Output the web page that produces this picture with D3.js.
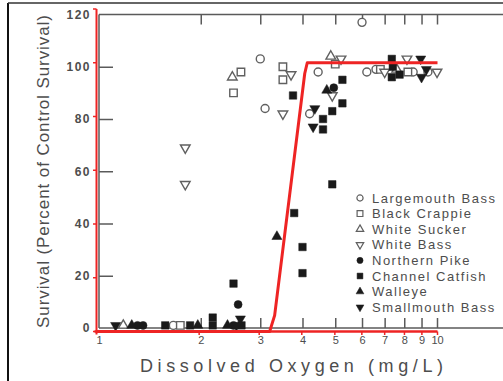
<!DOCTYPE html>
<html><head><meta charset="utf-8">
<script src="https://cdn.jsdelivr.net/npm/d3@7"></script>
<style>
html,body{margin:0;padding:0;background:#fff;}
svg{display:block;}
text{font-family:"Liberation Sans",Arial,sans-serif;fill:#4d4d4d;}
</style></head><body>
<svg id="c" width="503" height="381"></svg>
<script>
// ---- data (DO in mg/L, survival in % of control) ----
const largemouthBass = [[1.66,1],[3.0,103],[3.1,84],[4.2,82],[4.45,98],[6.0,117],[6.2,98],[6.6,99],[8.5,98],[9.4,98]];
const blackCrappie   = [[1.74,1],[2.5,90],[2.63,98],[3.5,100],[3.5,95],[5.0,101],[6.8,99],[8.2,98]];
const whiteSucker    = [[1.18,1],[2.48,96],[4.85,104],[7.6,99]];
const whiteBass      = [[1.8,69],[1.8,55],[3.5,82],[3.7,97],[4.9,89],[5.2,103],[7.0,98],[8.15,103],[10,98]];
const northernPike   = [[1.3,1],[1.35,1],[2.5,1],[2.58,9],[4.95,92]];
const channelCatfish = [[1.57,1],[1.86,1],[2.17,1],[2.17,4],[2.5,17],[2.64,1],[3.75,89],[3.78,44],[4.0,31],[4.0,21],
                        [4.6,80],[4.6,76],[4.9,55],[4.9,83],[5.25,86],[5.25,95],[7.35,103],[7.4,100],[7.35,96],[7.75,97]];
const walleye        = [[1.25,1],[1.96,1],[2.4,1],[3.36,35],[4.72,91]];
const smallmouthBass = [[1.12,1],[2.55,1],[2.62,3.5],[4.3,77],[4.35,84],[8.95,103],[9.0,96],[9.3,99]];

const speciesNames = ["Largemouth Bass","Black Crappie","White Sucker","White Bass","Northern Pike","Channel Catfish","Walleye","Smallmouth Bass"];
const speciesData  = [largemouthBass,blackCrappie,whiteSucker,whiteBass,northernPike,channelCatfish,walleye,smallmouthBass];

// red fitted threshold curve
const fitCurve = [[1,0],[3.22,0],[3.33,6],[4.08,96],[4.15,100],[10,100]];

const xTicks = [1,2,3,4,5,6,7,8,9,10];
const xTickLabels = ["1","2","3","4","5","6","7","8","9","10"];
const yTicks = [0,20,40,60,80,100,120];

// ---- drawing ----
const svg = d3.select("#c");
const W = 503, H = 381;
const x = d3.scaleLog().domain([1,10]).range([99,437]);
const y = d3.scaleLinear().domain([0,120]).range([328,14.5]);
const xr = d3.scaleLog().domain([1,10]).range([96.5,437.5]);
const yr = d3.scaleLinear().domain([0,120]).range([331.5,9]);

const gray = "#5a5a5a";

// scan frame border
svg.append("line").attr("x1",8).attr("x2",8).attr("y1",3).attr("y2",H).attr("stroke","#111").attr("stroke-width",2);
svg.append("line").attr("x1",8).attr("x2",W).attr("y1",3).attr("y2",3).attr("stroke","#333").attr("stroke-width",1.5);

// axis frame lines
svg.append("line").attr("x1",x(1)).attr("x2",W).attr("y1",y(0)).attr("y2",y(0)).attr("stroke",gray).attr("stroke-width",1.5);
svg.append("line").attr("x1",x(1)).attr("x2",W).attr("y1",y(120)).attr("y2",y(120)).attr("stroke",gray).attr("stroke-width",1.5);
svg.append("line").attr("x1",x(1)).attr("x2",x(1)).attr("y1",y(120)).attr("y2",y(0)).attr("stroke",gray).attr("stroke-width",1.5);

// bottom axis
const bx = svg.append("g").attr("transform",`translate(0,${y(0)})`)
  .call(d3.axisBottom(x).tickValues(xTicks).tickFormat((d,i)=>xTickLabels[i]).tickSize(-10).tickPadding(8));
bx.select(".domain").remove();
bx.selectAll(".tick line").attr("stroke",gray).attr("stroke-width",1.5).filter(d=>d===1).remove();
bx.selectAll(".tick text").attr("font-size",11).attr("fill","#4d4d4d").style("font-family","Liberation Sans, Arial");

// top axis ticks
const tx = svg.append("g").attr("transform",`translate(0,${y(120)})`)
  .call(d3.axisTop(x).tickValues(xTicks.slice(1)).tickFormat("").tickSize(-10));
tx.select(".domain").remove();
tx.selectAll(".tick line").attr("stroke",gray).attr("stroke-width",1.5);

// left axis
const ly = svg.append("g").attr("transform",`translate(${x(1)},0)`)
  .call(d3.axisLeft(y).tickValues(yTicks).tickSize(-14).tickPadding(8));
ly.select(".domain").remove();
ly.selectAll(".tick line").attr("stroke",gray).attr("stroke-width",1.5).filter(d=>d===0||d===120).remove();
ly.selectAll(".tick text").attr("font-size",12).attr("font-weight","bold").attr("letter-spacing","1.5px")
  .attr("fill","#5c5c5c").style("font-family","Liberation Sans, Arial");

// axis titles
svg.append("text").attr("transform",`translate(43,171.5) rotate(-90)`).attr("text-anchor","middle")
  .attr("dy","0.35em").attr("font-size",17).attr("textLength",313).attr("lengthAdjust","spacing")
  .text("Survival (Percent of Control Survival)");
svg.append("text").attr("x",291.5).attr("y",372).attr("text-anchor","middle")
  .attr("font-size",18).attr("textLength",303).attr("lengthAdjust","spacing")
  .text("Dissolved Oxygen (mg/L)");

// markers
const sym = [
  {t:d3.symbolCircle,s:50,fill:false,rot:0},
  {t:d3.symbolSquare,s:56,fill:false,rot:0},
  {t:d3.symbolTriangle,s:40,fill:false,rot:0},
  {t:d3.symbolTriangle,s:40,fill:false,rot:180},
  {t:d3.symbolCircle,s:50,fill:true,rot:0},
  {t:d3.symbolSquare,s:56,fill:true,rot:0},
  {t:d3.symbolTriangle,s:44,fill:true,rot:0},
  {t:d3.symbolTriangle,s:44,fill:true,rot:180}
];
speciesData.forEach((arr,i)=>{
  const m = sym[i];
  svg.append("g").selectAll("path").data(arr).join("path")
    .attr("d",d3.symbol().type(m.t).size(m.s))
    .attr("transform",d=>`translate(${x(d[0])},${y(d[1])}) rotate(${m.rot})`)
    .attr("fill",m.fill?"#1a1a1a":"#fff")
    .attr("stroke",m.fill?"#1a1a1a":"#606060")
    .attr("stroke-width",m.fill?0.5:1.4);
});

// legend
const lg = svg.append("g");
speciesNames.forEach((nm,i)=>{
  const m = sym[i];
  const yy = 198 + i*15.6;
  lg.append("path").attr("d",d3.symbol().type(m.t).size(m.s*0.6)())
    .attr("transform",`translate(360,${yy}) rotate(${m.rot})`)
    .attr("fill",m.fill?"#1a1a1a":"#fff").attr("stroke",m.fill?"#1a1a1a":"#606060").attr("stroke-width",m.fill?0.5:1.2);
  lg.append("text").attr("x",372).attr("y",yy).attr("dy","0.36em").attr("font-size",13)
    .attr("letter-spacing","1.5px").text(nm);
});

// red overlay
const red = "#ee2424";
svg.append("line").attr("x1",xr(1)).attr("x2",xr(1)).attr("y1",yr(120)).attr("y2",yr(0)+3).attr("stroke",red).attr("stroke-width",2);
svg.append("line").attr("x1",xr(1)-2).attr("x2",xr(10)).attr("y1",yr(0)).attr("y2",yr(0)).attr("stroke",red).attr("stroke-width",2.5);
svg.append("g").selectAll("line").data(yTicks).join("line")
  .attr("x1",xr(1)-3.5).attr("x2",xr(1)).attr("y1",d=>yr(d)).attr("y2",d=>yr(d)).attr("stroke",red).attr("stroke-width",1.5);
svg.append("g").selectAll("line").data(xTicks.slice(1)).join("line")
  .attr("x1",d=>xr(d)).attr("x2",d=>xr(d)).attr("y1",yr(0)).attr("y2",yr(0)+3.5).attr("stroke",red).attr("stroke-width",1.5);
svg.append("path").datum(fitCurve)
  .attr("d",d3.line().x(d=>xr(d[0])).y(d=>yr(d[1])))
  .attr("fill","none").attr("stroke",red).attr("stroke-width",3).attr("stroke-linejoin","round");
</script>
</body></html>
